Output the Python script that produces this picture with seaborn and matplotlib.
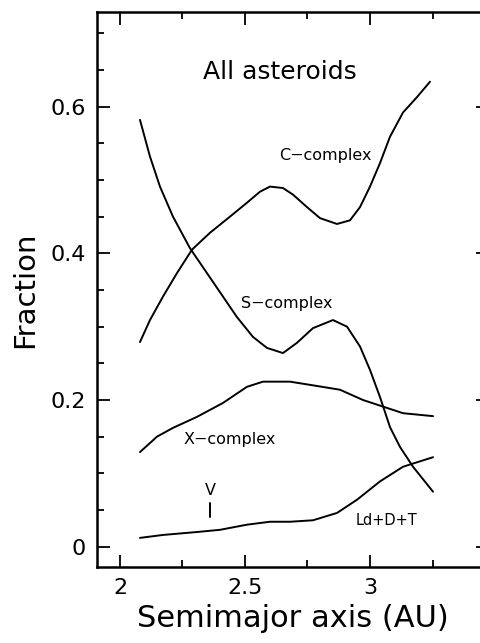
import matplotlib
matplotlib.use("Agg")
import matplotlib.pyplot as plt
from matplotlib.ticker import MultipleLocator
import seaborn as sns
import pandas as pd

# Fraction of each taxonomic complex versus semimajor axis (AU)
c_a = [2.08, 2.12, 2.172, 2.228, 2.288, 2.36, 2.44, 2.508, 2.56, 2.60, 2.652, 2.692,
       2.748, 2.80, 2.868, 2.92, 2.96, 3.00, 3.04, 3.08, 3.132, 3.188, 3.24]
c_f = [0.279, 0.309, 0.341, 0.373, 0.405, 0.428, 0.450, 0.469, 0.484, 0.491, 0.489, 0.480,
       0.463, 0.448, 0.440, 0.445, 0.463, 0.491, 0.523, 0.559, 0.592, 0.613, 0.634]

s_a = [2.08, 2.12, 2.16, 2.212, 2.28, 2.348, 2.412, 2.468, 2.532, 2.588, 2.652,
       2.708, 2.772, 2.852, 2.908, 2.96, 3.00, 3.04, 3.08, 3.12, 3.172, 3.252]
s_f = [0.582, 0.532, 0.491, 0.450, 0.407, 0.373, 0.341, 0.313, 0.286, 0.271, 0.264,
       0.278, 0.298, 0.309, 0.300, 0.273, 0.241, 0.204, 0.163, 0.136, 0.109, 0.075]

x_a = [2.08, 2.148, 2.212, 2.308, 2.412, 2.508, 2.572, 2.68, 2.772, 2.88, 2.972, 3.052, 3.132, 3.252]
x_f = [0.129, 0.150, 0.162, 0.177, 0.196, 0.218, 0.225, 0.225, 0.220, 0.214, 0.200, 0.191, 0.182, 0.178]

l_a = [2.08, 2.172, 2.308, 2.40, 2.508, 2.60, 2.68, 2.772, 2.868, 2.948, 3.04, 3.132, 3.252]
l_f = [0.012, 0.016, 0.020, 0.023, 0.030, 0.034, 0.034, 0.036, 0.046, 0.064, 0.089, 0.109, 0.122]

series = ["C-complex", "S-complex", "X-complex", "Ld+D+T"]
frames = []
for name, a, f in zip(series, [c_a, s_a, x_a, l_a], [c_f, s_f, x_f, l_f]):
    frames.append(pd.DataFrame({"a": a, "frac": f, "complex": name}))
df = pd.concat(frames, ignore_index=True)

sns.set_style("ticks")
plt.rcParams["font.family"] = ["DejaVu Sans"]
plt.rcParams["text.color"] = "black"
plt.rcParams["axes.labelcolor"] = "black"
plt.rcParams["xtick.color"] = "black"
plt.rcParams["ytick.color"] = "black"

fig = plt.figure(figsize=(4.8, 6.43), dpi=100)
ax = fig.add_axes([0.202, 0.1182, 0.8147, 0.8631])

sns.lineplot(data=df, x="a", y="frac", hue="complex", units="complex",
             estimator=None, sort=False, palette=["black"] * 4,
             linewidth=1.4, legend=False, ax=ax,
             solid_joinstyle="round", solid_capstyle="round")

ax.set_xlim(1.908, 3.472)
ax.set_ylim(-0.0277, 0.729)

ax.xaxis.set_minor_locator(MultipleLocator(0.25))
ax.yaxis.set_minor_locator(MultipleLocator(0.05))
ax.set_xticks([2, 2.5, 3])
ax.set_xticklabels(["2", "2.5", "3"])
ax.set_yticks([0, 0.2, 0.4, 0.6])
ax.set_yticklabels(["0", "0.2", "0.4", "0.6"])

ax.tick_params(which="both", direction="in", top=True, right=True,
               colors="black", width=1.3)
ax.tick_params(which="major", length=9, labelsize=16, pad=8)
ax.tick_params(which="minor", length=5)
ax.tick_params(axis="y", which="minor", right=False)
for sp in ax.spines.values():
    sp.set_linewidth(1.8)
    sp.set_color("black")

ax.set_xlabel("Semimajor axis (AU)", fontsize=22, labelpad=4)
ax.set_ylabel("Fraction", fontsize=21, labelpad=8)

ax.text(2.64, 0.647, "All asteroids", fontsize=18, ha="center", va="center")
ax.text(2.82, 0.533, "C\u2212complex", fontsize=11.5, ha="center", va="center")
ax.text(2.668, 0.332, "S\u2212complex", fontsize=11.5, ha="center", va="center")
ax.text(2.44, 0.146, "X\u2212complex", fontsize=11.5, ha="center", va="center")
ax.text(3.064, 0.036, "Ld+D+T", fontsize=10.5, ha="center", va="center")
ax.text(2.36, 0.077, "V", fontsize=11.5, ha="center", va="center")
ax.plot([2.36, 2.36], [0.041, 0.059], color="black", linewidth=1.4)

fig.savefig("out.png", dpi=100, facecolor="white")
